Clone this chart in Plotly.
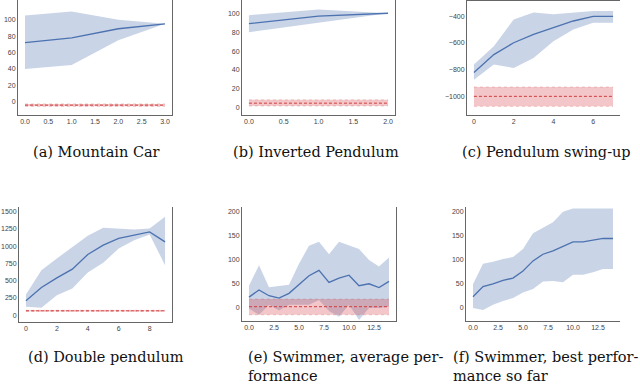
import plotly.graph_objects as go

# (a) Mountain Car
a_x = [0, 1, 2, 3]
a_mean = [72, 78, 89, 95]
a_hi = [105, 110, 100, 95]
a_lo = [40, 45, 75, 95]
a_ref = [-4, -4]
a_ref_hi = [-2.5, -2.5]
a_ref_lo = [-5.5, -5.5]

# (b) Inverted Pendulum
b_x = [0, 1, 2]
b_mean = [89, 97, 100]
b_hi = [98, 104, 100]
b_lo = [80, 90, 100]
b_ref = [5, 5]
b_ref_hi = [8.5, 8.5]
b_ref_lo = [2, 2]

# (c) Pendulum swing-up
c_x = [0, 1, 2, 3, 4, 5, 6, 7]
c_mean = [-822, -687, -598, -536, -485, -435, -400, -400]
c_hi = [-762, -624, -423, -372, -385, -372, -360, -360]
c_lo = [-875, -762, -787, -712, -586, -498, -448, -448]
c_ref = [-1000, -1000]
c_ref_hi = [-930, -930]
c_ref_lo = [-1075, -1075]

# (d) Double pendulum
d_x = [0, 1, 2, 3, 4, 5, 6, 7, 8, 9]
d_mean = [208, 400, 541, 668, 880, 1016, 1113, 1161, 1209, 1064]
d_hi = [300, 653, 823, 991, 1151, 1267, 1258, 1243, 1258, 1427]
d_lo = [121, 106, 290, 387, 620, 759, 968, 1088, 1171, 725]
d_ref = [62, 62]
d_ref_hi = [70, 70]
d_ref_lo = [55, 55]

# (e) Swimmer, average performance
e_x = list(range(15))
e_mean = [21, 36, 24, 19, 29, 47, 66, 77, 52, 61, 67, 45, 49, 41, 54]
e_hi = [45, 88, 42, 44, 47, 91, 129, 137, 111, 137, 130, 122, 99, 85, 104]
e_lo = [-3, -16, 5, -7, 5, 5, 5, 15, -8, -20, 5, -27, -2, -2, 1]
e_ref = [1, 1]
e_ref_hi = [17, 17]
e_ref_lo = [-16, -16]

# (f) Swimmer, best performance so far
f_x = list(range(15))
f_mean = [22, 43, 49, 56, 61, 76, 97, 111, 118, 128, 137, 137, 140, 144, 144]
f_hi = [48, 91, 95, 101, 105, 122, 155, 167, 178, 200, 207, 207, 207, 207, 207]
f_lo = [-2, -6, 5, 13, 19, 31, 38, 54, 55, 52, 68, 68, 73, 80, 80]

# caption lines (text, x px, y px, anchor)
captions = [
    ("(a) Mountain Car", 96, 152, "center"),
    ("(b) Inverted Pendulum", 316, 152, "center"),
    ("(c) Pendulum swing-up", 546, 152, "center"),
    ("(d) Double pendulum", 106, 357, "center"),
    ("(e) Swimmer, average per-", 246, 357, "left"),
    ("formance", 246, 376, "left"),
    ("(f) Swimmer, best perfor-", 451, 357, "left"),
    ("mance so far", 451, 376, "left"),
]

W, H = 640, 387
BLUE = "#4C72B0"
BLUE_FILL = "rgba(76,114,176,0.30)"
RED = "#d03c3c"
RED_FILL = "rgba(214,70,75,0.30)"
SPINE = "#666666"

def px_dom(x0, x1):
    return [x0 / W, x1 / W]

def py_dom(top, bottom):
    return [1 - bottom / H, 1 - top / H]

panels = [
    dict(x=a_x, m=a_mean, hi=a_hi, lo=a_lo, r=a_ref, rhi=a_ref_hi, rlo=a_ref_lo,
         xd=(18, 172), yd=(0, 115), xr=[-0.15, 3.15], yr=[-16, 124], xt=0.5, yt=20, xf=".1f",
         ymirror=True, xmirror=False),
    dict(x=b_x, m=b_mean, hi=b_hi, lo=b_lo, r=b_ref, rhi=b_ref_hi, rlo=b_ref_lo,
         xd=(242, 395), yd=(0, 115), xr=[-0.1, 2.1], yr=[-7.5, 114], xt=0.5, yt=20, xf=".1f",
         ymirror=True, xmirror=False),
    dict(x=c_x, m=c_mean, hi=c_hi, lo=c_lo, r=c_ref, rhi=c_ref_hi, rlo=c_ref_lo,
         xd=(467, 620), yd=(1, 115), xr=[-0.35, 7.35], yr=[-1140, -285], xt=2, yt=200, xf="d",
         ymirror=False, xmirror=True),
    dict(x=d_x, m=d_mean, hi=d_hi, lo=d_lo, r=d_ref, rhi=d_ref_hi, rlo=d_ref_lo,
         xd=(19, 172), yd=(207, 322), xr=[-0.45, 9.45], yr=[-100, 1570], xt=2, yt=250, xf="d",
         ymirror=True, xmirror=False),
    dict(x=e_x, m=e_mean, hi=e_hi, lo=e_lo, r=e_ref, rhi=e_ref_hi, rlo=e_ref_lo,
         xd=(242, 396), yd=(207, 321), xr=[-0.7, 14.7], yr=[-29, 210], xt=2.5, yt=50, xf=".1f",
         ymirror=True, xmirror=False),
    dict(x=f_x, m=f_mean, hi=f_hi, lo=f_lo, r=None,
         xd=(466, 620), yd=(207, 321), xr=[-0.7, 14.7], yr=[-29, 210], xt=2.5, yt=50, xf=".1f",
         ymirror=False, xmirror=False),
]

fig = go.Figure()
layout = {}
tickfont = dict(family="Liberation Sans", size=7, color="#444444")

for i, p in enumerate(panels):
    n = "" if i == 0 else str(i + 1)
    xa, ya = "x" + n, "y" + n
    # blue band
    fig.add_trace(go.Scatter(x=p["x"], y=p["hi"], xaxis=xa, yaxis=ya, mode="lines",
                             line=dict(width=0, color=BLUE_FILL), showlegend=False, hoverinfo="skip"))
    fig.add_trace(go.Scatter(x=p["x"], y=p["lo"], xaxis=xa, yaxis=ya, mode="lines", fill="tonexty",
                             fillcolor=BLUE_FILL, line=dict(width=0, color=BLUE_FILL),
                             showlegend=False, hoverinfo="skip"))
    fig.add_trace(go.Scatter(x=p["x"], y=p["m"], xaxis=xa, yaxis=ya, mode="lines",
                             line=dict(width=1.3, color=BLUE), showlegend=False))
    if p["r"] is not None:
        rx = [p["x"][0], p["x"][-1]]
        fig.add_trace(go.Scatter(x=rx, y=p["rhi"], xaxis=xa, yaxis=ya, mode="lines",
                                 line=dict(width=0.6, color="rgba(214,70,75,0.45)", dash="dot"),
                                 showlegend=False, hoverinfo="skip"))
        fig.add_trace(go.Scatter(x=rx, y=p["rlo"], xaxis=xa, yaxis=ya, mode="lines", fill="tonexty",
                                 fillcolor=RED_FILL,
                                 line=dict(width=0.6, color="rgba(214,70,75,0.45)", dash="dot"),
                                 showlegend=False, hoverinfo="skip"))
        fig.add_trace(go.Scatter(x=rx, y=p["r"], xaxis=xa, yaxis=ya, mode="lines",
                                 line=dict(width=1, color=RED, dash="3px,2px"), showlegend=False))

    layout["xaxis" + n] = dict(domain=px_dom(*p["xd"]), range=p["xr"], anchor=ya,
                               dtick=p["xt"], tick0=0, tickformat=p["xf"], showgrid=False,
                               zeroline=False, showline=True, linecolor=SPINE, linewidth=1,
                               mirror=p["xmirror"], ticks="", tickfont=tickfont,
                               automargin=False, ticklabelstandoff=0)
    layout["yaxis" + n] = dict(domain=py_dom(*p["yd"]), range=p["yr"], anchor=xa,
                               dtick=p["yt"], tick0=0, showgrid=False, zeroline=False,
                               showline=True, linecolor=SPINE, linewidth=1,
                               mirror=p["ymirror"], ticks="", tickfont=tickfont,
                               automargin=False, ticklabelstandoff=0)

capfont = dict(family="DejaVu Serif", size=14.5, color="#111111")
annotations = []
for txt, cx, cy, al in captions:
    annotations.append(dict(text=txt, x=cx / W, y=1 - cy / H, xref="paper", yref="paper",
                            showarrow=False, font=capfont, xanchor=al, yanchor="middle"))

fig.update_layout(**layout, annotations=annotations, width=W, height=H,
                  margin=dict(l=0, r=0, t=0, b=0), plot_bgcolor="white", paper_bgcolor="white")

# page body has a default 8px margin; drop it so the figure fills the window
fig.write_html("out.html", config={"displayModeBar": False},
               post_script="document.body.style.margin='0px';")
